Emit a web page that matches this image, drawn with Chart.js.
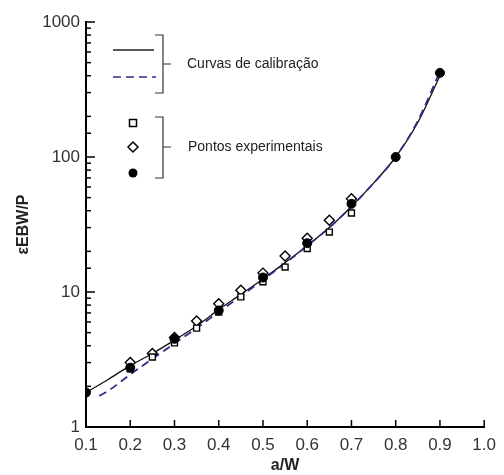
<!DOCTYPE html>
<html>
<head>
<meta charset="utf-8">
<script src="https://cdn.jsdelivr.net/npm/chart.js@4.4.1/dist/chart.umd.min.js"></script>
<style>
  html, body { margin: 0; padding: 0; background: #fff; }
</style>
</head>
<body>
<canvas id="chart" width="504" height="475"></canvas>
<script>
// calibration curves
const solidX = [0.1, 0.15, 0.2, 0.25, 0.3, 0.35, 0.4, 0.45, 0.5, 0.55, 0.6, 0.65, 0.7, 0.75, 0.8, 0.85, 0.9];
const solidY = [1.8, 2.25, 2.85, 3.5, 4.4, 5.6, 7.4, 9.6, 12.5, 16.5, 22, 30, 43, 64, 100, 180, 400];
const dashX = [0.13, 0.15, 0.2, 0.25, 0.3, 0.35, 0.4, 0.45, 0.5, 0.55, 0.6, 0.65, 0.7, 0.75, 0.8, 0.85, 0.9];
const dashY = [1.7, 1.85, 2.45, 3.2, 4.15, 5.4, 7.1, 9.3, 12.3, 16.3, 22, 30, 43, 64, 100, 185, 430];

// experimental points
const pointsX = [0.2, 0.25, 0.3, 0.35, 0.4, 0.45, 0.5, 0.55, 0.6, 0.65, 0.7];
const squareY = [2.7, 3.3, 4.2, 5.4, 7.1, 9.2, 11.9, 15.3, 21, 27.8, 38.5];
const diamondY = [3.0, 3.5, 4.6, 6.1, 8.2, 10.3, 13.8, 18.5, 25, 34, 49];
const circleX = [0.1, 0.2, 0.3, 0.4, 0.5, 0.6, 0.7, 0.8, 0.9];
const circleY = [1.8, 2.75, 4.5, 7.3, 12.8, 23, 45, 100, 420];

const xTicks = [0.1, 0.2, 0.3, 0.4, 0.5, 0.6, 0.7, 0.8, 0.9, 1.0];
const yLabels = [1, 10, 100, 1000];

const legendCurves = 'Curvas de calibração';
const legendPoints = 'Pontos experimentais';

const NAVY = '#2e2e88';
const FONT = '"Liberation Sans", Arial, sans-serif';

const toXY = (xs, ys) => xs.map((x, i) => ({ x, y: ys[i] }));

// inside ticks (major/minor) + legend drawn inside the plot
const extrasPlugin = {
  id: 'extras',
  afterDraw(chart) {
    const ctx = chart.ctx;
    const xs = chart.scales.x;
    const ys = chart.scales.y;
    ctx.save();
    ctx.strokeStyle = '#000';
    ctx.lineWidth = 1.5;
    // y ticks
    ys.ticks.forEach(t => {
      const py = ys.getPixelForValue(t.value);
      const major = yLabels.includes(t.value);
      ctx.beginPath();
      ctx.moveTo(xs.left, py);
      ctx.lineTo(xs.left + (major ? 9 : 5), py);
      ctx.stroke();
    });
    // x ticks
    xs.ticks.forEach(t => {
      const px = xs.getPixelForValue(t.value);
      ctx.beginPath();
      ctx.moveTo(px, ys.bottom);
      ctx.lineTo(px, ys.bottom - 7);
      ctx.stroke();
    });

    // legend: curves
    ctx.lineWidth = 1.3;
    ctx.strokeStyle = '#222';
    ctx.beginPath();
    ctx.moveTo(113, 50); ctx.lineTo(154, 50);
    ctx.stroke();
    ctx.strokeStyle = NAVY;
    ctx.setLineDash([8, 5]);
    ctx.beginPath();
    ctx.moveTo(113, 77); ctx.lineTo(156, 77);
    ctx.stroke();
    ctx.setLineDash([]);

    const bracket = (y0, y1, ym) => {
      ctx.strokeStyle = '#333';
      ctx.lineWidth = 1.2;
      ctx.beginPath();
      ctx.moveTo(155, y0); ctx.lineTo(163, y0); ctx.lineTo(163, y1); ctx.lineTo(155, y1);
      ctx.moveTo(163, ym); ctx.lineTo(171, ym);
      ctx.stroke();
    };
    bracket(35, 93, 64);
    bracket(117, 178, 147);

    // legend: point markers
    ctx.lineWidth = 1.5;
    ctx.strokeStyle = '#000';
    ctx.fillStyle = '#fff';
    ctx.fillRect(129.5, 119.5, 7, 7);
    ctx.strokeRect(129.5, 119.5, 7, 7);
    ctx.beginPath();
    ctx.moveTo(133, 142); ctx.lineTo(138, 147); ctx.lineTo(133, 152); ctx.lineTo(128, 147); ctx.closePath();
    ctx.fill(); ctx.stroke();
    ctx.fillStyle = '#000';
    ctx.beginPath();
    ctx.arc(133, 173, 4.5, 0, Math.PI * 2);
    ctx.fill();

    ctx.fillStyle = '#222';
    ctx.font = '14px ' + FONT;
    ctx.textBaseline = 'middle';
    ctx.textAlign = 'left';
    ctx.fillText(legendCurves, 187, 64);
    ctx.fillText(legendPoints, 188, 147);
    ctx.restore();
  }
};

const ctx = document.getElementById('chart').getContext('2d');
new Chart(ctx, {
  type: 'scatter',
  data: {
    datasets: [
      {
        label: 'circles',
        data: toXY(circleX, circleY),
        pointStyle: 'circle',
        pointRadius: 4.5,
        backgroundColor: '#000',
        borderColor: '#000',
        borderWidth: 1,
        order: 1
      },
      {
        label: 'squares',
        data: toXY(pointsX, squareY),
        pointStyle: 'rect',
        pointRadius: 4.2,
        backgroundColor: '#fff',
        borderColor: '#000',
        borderWidth: 1.4,
        order: 2
      },
      {
        label: 'diamonds',
        data: toXY(pointsX, diamondY),
        pointStyle: 'rectRot',
        pointRadius: 5,
        backgroundColor: '#fff',
        borderColor: '#000',
        borderWidth: 1.4,
        order: 3
      },
      {
        label: 'solid',
        data: toXY(solidX, solidY),
        showLine: true,
        pointRadius: 0,
        borderColor: '#111',
        borderWidth: 1.3,
        cubicInterpolationMode: 'monotone',
        order: 5
      },
      {
        label: 'dashed',
        data: toXY(dashX, dashY),
        showLine: true,
        pointRadius: 0,
        borderColor: NAVY,
        borderWidth: 1.8,
        borderDash: [8, 5],
        cubicInterpolationMode: 'monotone',
        order: 4
      }
    ]
  },
  options: {
    responsive: false,
    animation: false,
    layout: { padding: { top: 22, right: 14, left: 0, bottom: 0 } },
    plugins: {
      legend: { display: false },
      tooltip: { enabled: false }
    },
    scales: {
      x: {
        type: 'linear',
        min: 0.1,
        max: 1.0,
        afterBuildTicks: s => { s.ticks = xTicks.map(v => ({ value: v })); },
        afterFit: s => { s.height = 48; },
        grid: { display: false, drawTicks: false },
        border: { display: true, color: '#000', width: 2 },
        ticks: {
          padding: 8,
          color: '#333',
          font: { family: FONT, size: 17 },
          callback: v => Number(v).toFixed(1)
        },
        title: {
          display: true,
          text: 'a/W',
          color: '#222',
          font: { family: FONT, size: 16, weight: 'bold' },
          padding: { top: 0, bottom: 0 }
        }
      },
      y: {
        type: 'logarithmic',
        min: 1,
        max: 1000,
        afterFit: s => { s.width = 86; },
        grid: { display: false, drawTicks: false },
        border: { display: true, color: '#000', width: 2 },
        ticks: {
          autoSkip: false,
          padding: 6,
          color: '#333',
          font: { family: FONT, size: 17 },
          callback: v => (yLabels.includes(v) ? String(v) : '')
        },
        title: {
          display: true,
          text: 'εEBW/P',
          color: '#222',
          font: { family: FONT, size: 16, weight: 'bold' },
          padding: { top: 14, bottom: 0 }
        }
      }
    }
  },
  plugins: [extrasPlugin]
});
</script>
</body>
</html>
